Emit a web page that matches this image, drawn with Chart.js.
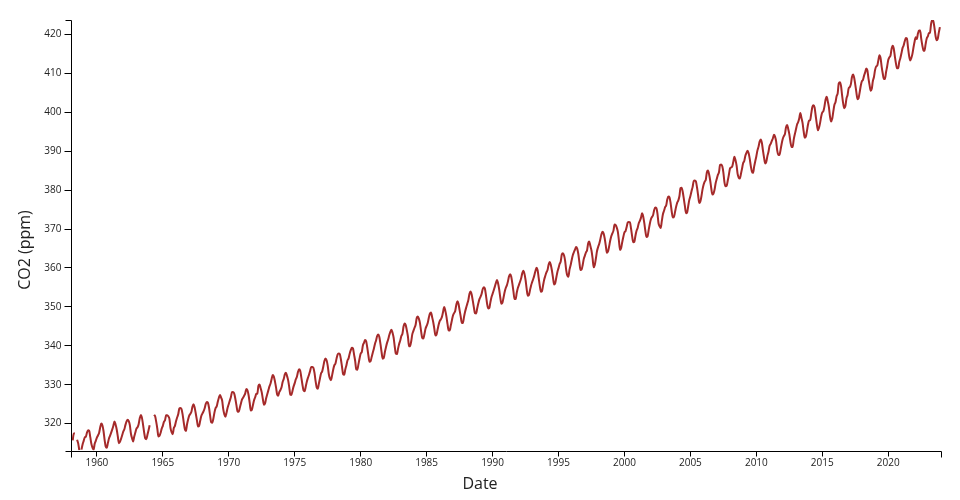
<!DOCTYPE html>
<html>
<head>
<meta charset="utf-8">
<script src="https://cdn.jsdelivr.net/npm/chart.js@4"></script>
<style>
  html, body { margin: 0; padding: 0; background: #fff; }
  #chart { display: block; }
</style>
</head>
<body>
<canvas id="chart" width="960" height="500"></canvas>
<script>
// Monthly mean CO2 at Mauna Loa (ppm), one value per month, null = no data
// first array starts March 1958, the rest start in January of the decade
const co2_1958_59 = [
  315.70, 317.45, 317.51, null, 315.86, 314.93, 313.20, null, 313.33, 314.67,
  315.58, 316.49, 316.65, 317.72, 318.29, 318.15, 316.54, 314.80, 313.84, 313.33, 314.81, 315.58
];
const co2_1960s = [
  316.43, 316.97, 317.58, 319.02, 320.03, 319.59, 318.18, 315.91, 314.16, 313.83, 315.00, 316.19,
  316.93, 317.70, 318.54, 319.48, 320.58, 319.77, 318.57, 316.79, 314.99, 315.31, 316.10, 317.01,
  317.94, 318.55, 319.68, 320.57, 321.02, 320.62, 319.61, 317.40, 316.25, 315.42, 316.69, 317.70,
  318.74, 319.07, 319.86, 321.38, 322.25, 321.48, 319.74, 317.77, 316.21, 315.99, 317.12, 318.31,
  319.57, null, null, null, 322.26, 321.89, 320.44, 318.69, 316.70, 316.87, 317.68, 318.71,
  319.44, 320.44, 320.89, 322.14, 322.17, 321.87, 321.21, 318.87, 317.81, 317.30, 318.87, 319.42,
  320.62, 321.59, 322.39, 323.87, 324.01, 323.75, 322.39, 320.37, 318.64, 318.10, 319.79, 321.08,
  322.07, 322.50, 323.04, 324.42, 325.00, 324.09, 322.54, 320.92, 319.25, 319.39, 320.73, 321.96,
  322.57, 323.15, 323.89, 325.02, 325.57, 325.36, 324.14, 322.11, 320.33, 320.25, 321.32, 322.89,
  324.00, 324.42, 325.63, 326.66, 327.38, 326.71, 325.88, 323.66, 322.38, 321.78, 322.85, 324.12
];
const co2_1970s = [
  325.06, 325.98, 326.93, 328.13, 328.08, 327.67, 326.34, 324.69, 323.10, 323.06, 324.01, 325.13,
  326.17, 326.68, 327.17, 327.79, 328.93, 328.57, 327.36, 325.43, 323.36, 323.56, 324.80, 326.01,
  326.77, 327.63, 327.75, 329.72, 330.07, 329.09, 328.04, 326.32, 324.84, 325.20, 326.50, 327.55,
  328.55, 329.56, 330.30, 331.50, 332.48, 332.07, 330.87, 329.31, 327.51, 327.18, 328.16, 328.64,
  329.35, 330.71, 331.48, 332.65, 333.09, 332.25, 331.18, 329.40, 327.44, 327.37, 328.46, 329.58,
  330.41, 331.41, 332.04, 333.31, 333.96, 333.59, 331.91, 330.06, 328.56, 328.34, 329.49, 330.76,
  331.75, 332.56, 333.50, 334.58, 334.57, 334.34, 333.05, 330.94, 329.30, 328.94, 330.31, 331.68,
  332.93, 333.42, 334.70, 336.07, 336.75, 336.27, 334.92, 332.75, 331.59, 331.16, 332.40, 333.85,
  334.97, 335.38, 336.64, 337.76, 338.01, 337.89, 336.54, 334.68, 332.76, 332.55, 333.92, 334.95,
  336.23, 336.76, 337.96, 338.88, 339.47, 339.29, 337.73, 336.09, 333.92, 333.86, 335.29, 336.73
];
const co2_1980s = [
  338.01, 338.36, 340.08, 340.77, 341.46, 341.17, 339.56, 337.60, 335.88, 336.02, 337.10, 338.21,
  339.24, 340.48, 341.38, 342.51, 342.91, 342.25, 340.49, 338.43, 336.69, 336.85, 338.36, 339.61,
  340.75, 341.61, 342.70, 343.56, 344.13, 343.35, 342.06, 339.82, 337.97, 337.86, 339.26, 340.49,
  341.38, 342.52, 343.10, 344.94, 345.75, 345.32, 343.99, 342.39, 339.86, 339.99, 341.16, 342.99,
  343.82, 344.63, 345.40, 347.14, 347.54, 346.91, 345.75, 343.71, 342.07, 341.87, 342.97, 344.38,
  345.11, 345.83, 347.20, 348.27, 348.55, 347.38, 346.11, 344.43, 342.65, 342.89, 344.17, 345.48,
  346.39, 346.81, 347.49, 348.75, 349.99, 349.03, 347.58, 345.62, 344.02, 343.94, 345.20, 346.54,
  347.80, 348.38, 348.96, 350.49, 351.43, 350.81, 349.16, 347.57, 345.90, 345.86, 347.38, 348.73,
  349.81, 350.77, 351.80, 353.38, 353.96, 353.17, 351.61, 349.88, 348.37, 348.30, 349.57, 350.85,
  351.93, 352.56, 353.32, 354.54, 355.06, 354.71, 352.96, 350.86, 349.60, 349.69, 351.16, 352.44
];
const co2_1990s = [
  353.33, 354.22, 355.14, 356.11, 356.93, 356.08, 354.53, 352.47, 350.83, 351.10, 352.41, 353.82,
  354.86, 355.52, 356.55, 357.86, 358.38, 357.76, 356.02, 353.98, 351.99, 352.01, 353.61, 354.84,
  355.66, 356.46, 357.35, 358.61, 359.28, 358.54, 356.97, 354.67, 352.87, 353.01, 354.20, 355.44,
  356.35, 357.16, 358.09, 359.21, 360.05, 359.41, 357.39, 355.36, 353.87, 354.07, 355.59, 357.01,
  358.00, 358.85, 359.47, 360.84, 361.53, 360.77, 359.35, 357.47, 355.73, 356.07, 357.53, 358.98,
  359.95, 361.00, 361.64, 363.45, 363.79, 363.26, 361.90, 359.46, 358.06, 357.75, 359.56, 360.70,
  362.05, 363.25, 364.03, 364.72, 365.41, 364.97, 363.65, 361.49, 359.46, 359.60, 360.76, 362.33,
  363.18, 364.00, 364.57, 366.35, 366.79, 365.62, 364.47, 362.51, 360.19, 360.77, 362.43, 364.28,
  365.33, 366.15, 367.31, 368.61, 369.30, 368.88, 367.64, 365.78, 363.90, 364.23, 365.46, 366.97,
  368.15, 368.87, 369.59, 371.14, 371.00, 370.35, 369.27, 366.94, 364.63, 365.12, 366.67, 368.01
];
const co2_2000s = [
  369.14, 369.46, 370.52, 371.66, 371.82, 371.70, 370.12, 368.12, 366.62, 366.73, 368.29, 369.53,
  370.28, 371.50, 372.12, 372.87, 374.02, 373.30, 371.62, 369.55, 367.96, 368.09, 369.68, 371.24,
  372.44, 373.08, 373.52, 374.85, 375.55, 375.40, 374.02, 371.48, 370.70, 370.25, 372.08, 373.78,
  374.68, 375.62, 376.11, 377.65, 378.35, 378.13, 376.62, 374.50, 372.99, 373.01, 374.35, 375.70,
  376.79, 377.37, 378.41, 380.52, 380.63, 379.57, 377.79, 375.86, 374.06, 374.24, 375.86, 377.48,
  378.46, 379.73, 380.77, 382.29, 382.45, 382.22, 380.74, 378.74, 376.70, 377.00, 378.35, 380.11,
  381.38, 382.19, 382.67, 384.61, 385.03, 384.05, 382.46, 380.41, 378.85, 379.13, 380.15, 381.82,
  382.89, 383.90, 384.58, 386.50, 386.56, 386.10, 384.50, 381.99, 380.96, 381.12, 382.45, 383.95,
  385.52, 385.82, 386.03, 387.21, 388.54, 387.76, 386.36, 384.09, 383.18, 382.99, 384.19, 385.56,
  386.94, 387.48, 388.82, 389.55, 390.14, 389.48, 388.03, 386.11, 384.74, 384.43, 386.02, 387.42
];
const co2_2010s = [
  388.71, 390.20, 391.17, 392.46, 393.00, 392.15, 390.20, 388.35, 386.85, 387.24, 388.67, 389.79,
  391.33, 391.86, 392.60, 393.25, 394.19, 393.74, 392.51, 390.13, 389.08, 389.00, 390.28, 391.86,
  393.12, 393.86, 394.40, 396.18, 396.74, 395.71, 394.36, 392.39, 391.11, 391.05, 392.98, 394.34,
  395.55, 396.80, 397.43, 398.41, 399.78, 398.61, 397.32, 395.20, 393.45, 393.70, 395.16, 396.84,
  397.85, 398.01, 399.77, 401.38, 401.78, 401.25, 399.10, 397.03, 395.38, 396.03, 397.28, 398.91,
  399.98, 400.28, 401.54, 403.28, 403.96, 402.80, 401.31, 398.93, 397.63, 398.29, 400.16, 401.85,
  402.56, 404.12, 404.87, 407.45, 407.72, 406.83, 404.41, 402.27, 401.05, 401.59, 403.55, 404.45,
  406.17, 406.46, 407.22, 409.04, 409.69, 408.88, 407.12, 405.13, 403.37, 403.63, 405.12, 406.81,
  407.96, 408.32, 409.41, 410.24, 411.24, 410.79, 408.71, 406.99, 405.51, 406.00, 408.02, 409.07,
  410.83, 411.75, 411.97, 413.33, 414.64, 413.93, 411.74, 409.95, 408.54, 408.53, 410.27, 411.76
];
const co2_2020s = [
  413.40, 414.11, 414.51, 416.21, 417.07, 416.39, 414.38, 412.55, 411.29, 411.28, 412.89, 413.89,
  415.15, 416.47, 417.16, 418.24, 419.05, 418.97, 416.60, 414.47, 413.30, 413.93, 415.01, 416.71,
  418.19, 419.28, 418.81, 420.23, 420.99, 420.99, 418.90, 417.19, 415.95, 415.78, 417.51, 418.95,
  419.47, 420.33, 420.51, 422.73, 423.70, 423.40, 421.83, 419.68, 418.51, 418.82, 420.46, 421.86
];

// [first year, first month, values]
const blocks = [
  [1958, 3, co2_1958_59],
  [1960, 1, co2_1960s],
  [1970, 1, co2_1970s],
  [1980, 1, co2_1980s],
  [1990, 1, co2_1990s],
  [2000, 1, co2_2000s],
  [2010, 1, co2_2010s],
  [2020, 1, co2_2020s]
];

const xTickValues = [1960, 1965, 1970, 1975, 1980, 1985, 1990, 1995, 2000, 2005, 2010, 2015, 2020];
const yTickValues = [320, 330, 340, 350, 360, 370, 380, 390, 400, 410, 420];

// turn the blocks into {x: decimal year, y: ppm} points (first day of each month)
let points = [];
blocks.forEach(function (b) {
  let startIdx = b[0] * 12 + (b[1] - 1);
  b[2].forEach(function (v, i) {
    let m = startIdx + i;
    points.push({ x: Math.floor(m / 12) + (m % 12) / 12, y: v });
  });
});

const FONT = '"Open Sans", "Noto Sans", sans-serif';

// d3-style axis lines with outer ticks, plus the axis titles
const axisFrame = {
  id: 'axisFrame',
  afterDraw(chart) {
    const ctx = chart.ctx;
    const a = chart.chartArea;
    const l = Math.round(a.left) + 0.5;
    const r = Math.round(a.right) + 0.5;
    const t = Math.round(a.top) + 0.5;
    const b = Math.round(a.bottom) + 0.5;
    ctx.save();
    ctx.strokeStyle = '#000';
    ctx.lineWidth = 1;
    ctx.beginPath();
    ctx.moveTo(l, b + 6); ctx.lineTo(l, b); ctx.lineTo(r, b); ctx.lineTo(r, b + 6);
    ctx.moveTo(l - 6, t); ctx.lineTo(l, t); ctx.lineTo(l, b); ctx.lineTo(l - 6, b);
    ctx.stroke();

    ctx.fillStyle = '#222';
    ctx.font = '16px ' + FONT;
    ctx.textAlign = 'center';
    ctx.textBaseline = 'middle';
    ctx.fillText('Date', 480, 484);
    ctx.translate(25, 250);
    ctx.rotate(-Math.PI / 2);
    ctx.fillText('CO2 (ppm)', 0, 0);
    ctx.restore();
  }
};

const chart = new Chart(document.getElementById('chart'), {
  type: 'line',
  data: {
    datasets: [{
      data: points,
      borderColor: '#a52a2a',
      borderWidth: 2,
      pointRadius: 0,
      cubicInterpolationMode: 'monotone',
      spanGaps: false,
      fill: false
    }]
  },
  options: {
    responsive: false,
    animation: false,
    events: [],
    layout: { padding: { left: 0, top: 20, right: 19, bottom: 0 } },
    plugins: { legend: { display: false }, tooltip: { enabled: false } },
    scales: {
      x: {
        type: 'linear',
        min: 1958,
        max: 2024,
        afterFit(scale) { scale.height = 49.5; },
        afterBuildTicks(scale) { scale.ticks = xTickValues.map(v => ({ value: v })); },
        border: { display: false },
        grid: { drawOnChartArea: false, drawTicks: true, tickLength: 6, color: '#000' },
        ticks: {
          autoSkip: false,
          maxRotation: 0,
          padding: 1,
          color: '#222',
          font: { family: FONT, size: 10 },
          callback: v => String(v)
        }
      },
      y: {
        type: 'linear',
        min: 313.1,
        max: 423.7,
        afterFit(scale) { scale.width = 70.5; },
        afterBuildTicks(scale) { scale.ticks = yTickValues.map(v => ({ value: v })); },
        border: { display: false },
        grid: { drawOnChartArea: false, drawTicks: true, tickLength: 6, color: '#000' },
        ticks: {
          autoSkip: false,
          padding: 3,
          color: '#222',
          font: { family: FONT, size: 10 },
          callback: v => String(v)
        }
      }
    }
  },
  plugins: [axisFrame]
});
</script>
</body>
</html>
